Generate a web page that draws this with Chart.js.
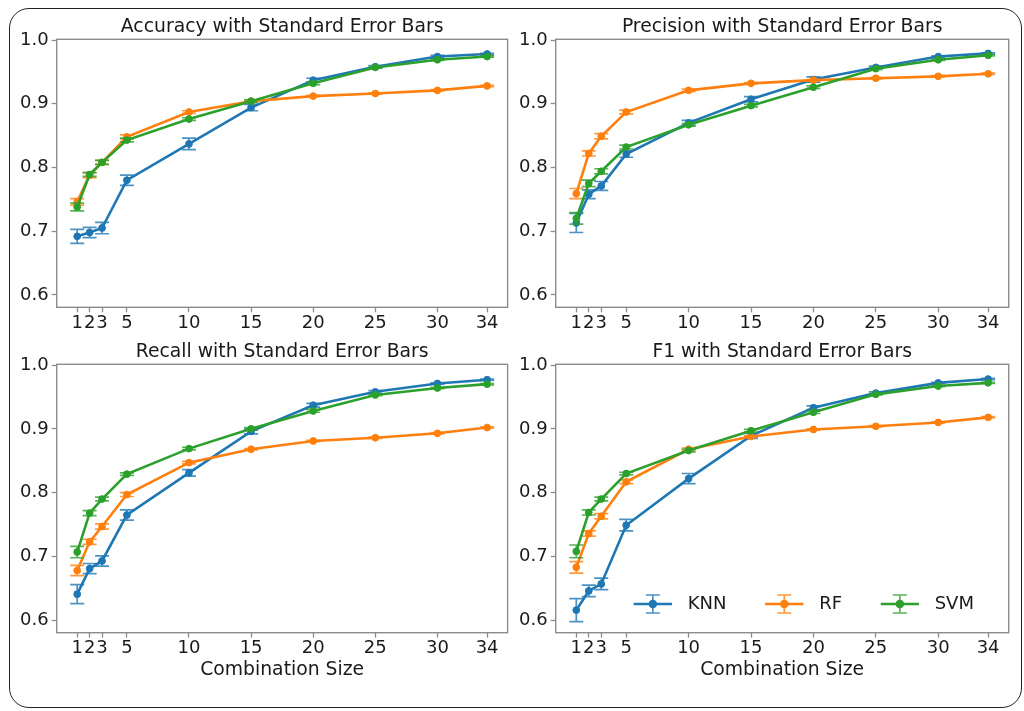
<!DOCTYPE html>
<html><head><meta charset="utf-8">
<script src="https://cdn.jsdelivr.net/npm/chart.js@4"></script>
<style>
html,body{margin:0;padding:0;background:#fff;width:1024px;height:711px;overflow:hidden}
canvas{position:absolute}
#frame{position:absolute;left:9px;top:8px;width:1013px;height:700px;border:1.5px solid #222;border-radius:20px;box-sizing:border-box;pointer-events:none}
</style></head><body>
<canvas id="cAcc" width="512" height="340" style="left:0;top:0"></canvas>
<canvas id="cPre" width="512" height="340" style="left:512px;top:0"></canvas>
<canvas id="cRec" width="512" height="371" style="left:0;top:340px"></canvas>
<canvas id="cF1" width="512" height="371" style="left:512px;top:340px"></canvas>
<div id="frame"></div>
<script>
// ---- data ----
const sizes = [1, 2, 3, 5, 10, 15, 20, 25, 30, 34];
const xTicks = [1, 2, 3, 5, 10, 15, 20, 25, 30, 34];
const yTicks = [0.6, 0.7, 0.8, 0.9, 1.0];
const models = ['KNN', 'RF', 'SVM'];

const accuracyKNN    = [0.692, 0.698, 0.705, 0.780, 0.837, 0.894, 0.937, 0.958, 0.974, 0.978];
const accuracyKNNErr = [0.011, 0.008, 0.009, 0.008, 0.009, 0.005, 0.003, 0.002, 0.002, 0.001];
const accuracyRF     = [0.746, 0.788, 0.808, 0.848, 0.887, 0.904, 0.912, 0.916, 0.921, 0.928];
const accuracyRFErr  = [0.005, 0.004, 0.003, 0.003, 0.002, 0.001, 0.001, 0.001, 0.001, 0.001];
const accuracySVM    = [0.738, 0.789, 0.808, 0.843, 0.876, 0.904, 0.932, 0.957, 0.969, 0.974];
const accuracySVMErr = [0.006, 0.003, 0.003, 0.003, 0.002, 0.002, 0.002, 0.001, 0.001, 0.001];

const precisionKNN    = [0.713, 0.758, 0.771, 0.821, 0.870, 0.907, 0.938, 0.957, 0.974, 0.979];
const precisionKNNErr = [0.015, 0.007, 0.007, 0.005, 0.004, 0.004, 0.004, 0.002, 0.001, 0.001];
const precisionRF     = [0.759, 0.822, 0.849, 0.887, 0.921, 0.932, 0.937, 0.940, 0.943, 0.947];
const precisionRFErr  = [0.008, 0.004, 0.004, 0.003, 0.002, 0.001, 0.001, 0.001, 0.001, 0.001];
const precisionSVM    = [0.720, 0.775, 0.794, 0.832, 0.867, 0.897, 0.926, 0.955, 0.969, 0.976];
const precisionSVMErr = [0.009, 0.005, 0.004, 0.003, 0.002, 0.002, 0.002, 0.001, 0.001, 0.001];

const recallKNN    = [0.641, 0.681, 0.693, 0.765, 0.831, 0.896, 0.937, 0.958, 0.971, 0.977];
const recallKNNErr = [0.015, 0.008, 0.008, 0.008, 0.005, 0.004, 0.003, 0.002, 0.001, 0.001];
const recallRF     = [0.678, 0.723, 0.747, 0.797, 0.847, 0.868, 0.881, 0.886, 0.893, 0.902];
const recallRFErr  = [0.008, 0.004, 0.004, 0.003, 0.002, 0.001, 0.001, 0.001, 0.001, 0.001];
const recallSVM    = [0.707, 0.768, 0.790, 0.829, 0.869, 0.900, 0.928, 0.953, 0.964, 0.970];
const recallSVMErr = [0.009, 0.004, 0.003, 0.002, 0.002, 0.002, 0.002, 0.001, 0.001, 0.001];

const f1KNN    = [0.616, 0.646, 0.657, 0.749, 0.822, 0.889, 0.933, 0.956, 0.972, 0.978];
const f1KNNErr = [0.018, 0.009, 0.009, 0.009, 0.008, 0.004, 0.003, 0.002, 0.001, 0.001];
const f1RF     = [0.683, 0.736, 0.763, 0.817, 0.868, 0.888, 0.899, 0.904, 0.910, 0.918];
const f1RFErr  = [0.009, 0.004, 0.004, 0.003, 0.002, 0.001, 0.001, 0.001, 0.001, 0.001];
const f1SVM    = [0.708, 0.769, 0.790, 0.830, 0.866, 0.897, 0.926, 0.954, 0.967, 0.972];
const f1SVMErr = [0.010, 0.004, 0.003, 0.002, 0.002, 0.002, 0.002, 0.001, 0.001, 0.001];

// ---- styling ----
const COLORS = ['#1f77b4', '#ff7f0e', '#2ca02c'];
const FONT = '"DejaVu Sans", "Liberation Sans", sans-serif';
const TEXT = '#1a1a1a';
const SPINE = '#8c8c8c';

const errorBarPlugin = {
  id: 'errorBars',
  afterDatasetDraw(chart, args) {
    const ds = chart.data.datasets[args.index];
    if (!ds.errors) return;
    const ctx = chart.ctx, xs = chart.scales.x, ys = chart.scales.y;
    ctx.save();
    ctx.strokeStyle = ds.borderColor;
    ctx.globalAlpha = 0.8;
    ctx.lineWidth = 1.7;
    ds.data.forEach((p, i) => {
      const e = ds.errors[i];
      const px = xs.getPixelForValue(p.x);
      const y1 = ys.getPixelForValue(p.y + e);
      const y2 = ys.getPixelForValue(p.y - e);
      ctx.beginPath();
      ctx.moveTo(px, y1); ctx.lineTo(px, y2);
      ctx.moveTo(px - 7, y1); ctx.lineTo(px + 7, y1);
      ctx.moveTo(px - 7, y2); ctx.lineTo(px + 7, y2);
      ctx.stroke();
    });
    ctx.restore();
  }
};

const boxPlugin = {
  id: 'axesBox',
  afterDatasetsDraw(chart) {
    const {ctx, chartArea: a} = chart;
    ctx.save();
    ctx.strokeStyle = SPINE;
    ctx.lineWidth = 1.4;
    ctx.strokeRect(a.left, a.top, a.right - a.left, a.bottom - a.top);
    ctx.restore();
  }
};

const subTitlePlugin = {
  id: 'subTitle',
  afterDraw(chart, args, opts) {
    const {ctx, chartArea: a} = chart;
    ctx.save();
    ctx.font = '18.8px ' + FONT;
    ctx.fillStyle = TEXT;
    ctx.textAlign = 'center';
    ctx.textBaseline = 'middle';
    ctx.fillText(opts.text, (a.left + a.right) / 2, a.top - 12);
    ctx.restore();
  }
};

const insetLegendPlugin = {
  id: 'insetLegend',
  afterDraw(chart, args, opts) {
    if (!opts.show) return;
    const {ctx, chartArea: a} = chart;
    ctx.save();
    ctx.font = '18px ' + FONT;
    ctx.textBaseline = 'middle';
    ctx.textAlign = 'left';
    let x = a.left + 78;
    const y = a.bottom - 28.7;
    chart.data.datasets.forEach((ds) => {
      const hw = 38.3;
      ctx.strokeStyle = ds.borderColor;
      ctx.lineWidth = 2.6;
      ctx.beginPath(); ctx.moveTo(x, y); ctx.lineTo(x + hw, y); ctx.stroke();
      const cx = x + hw / 2;
      ctx.globalAlpha = 0.8;
      ctx.lineWidth = 1.7;
      ctx.beginPath();
      ctx.moveTo(cx, y - 9); ctx.lineTo(cx, y + 9);
      ctx.moveTo(cx - 7, y - 9); ctx.lineTo(cx + 7, y - 9);
      ctx.moveTo(cx - 7, y + 9); ctx.lineTo(cx + 7, y + 9);
      ctx.stroke();
      ctx.globalAlpha = 1;
      ctx.fillStyle = ds.borderColor;
      ctx.beginPath(); ctx.arc(cx, y, 4.3, 0, Math.PI * 2); ctx.fill();
      ctx.fillStyle = TEXT;
      const tx = x + hw + 15.7;
      ctx.fillText(ds.label, tx, y);
      x = tx + ctx.measureText(ds.label).width + 38.7;
    });
    ctx.restore();
  }
};

function makeChart(id, title, series, errs, cfg) {
  const datasets = models.map((m, k) => ({
    label: m,
    data: sizes.map((s, i) => ({x: s, y: series[k][i]})),
    errors: errs[k],
    borderColor: COLORS[k],
    backgroundColor: COLORS[k],
    borderWidth: 2.6,
    pointRadius: 3.4,
    pointBorderWidth: 1,
    pointHoverRadius: 3.4,
    tension: 0,
    fill: false,
    order: 3 - k
  }));
  return new Chart(document.getElementById(id), {
    type: 'line',
    data: {datasets},
    options: {
      responsive: false,
      animation: false,
      devicePixelRatio: 1,
      layout: {padding: cfg.padding},
      plugins: {
        legend: {display: false},
        tooltip: {enabled: false},
        subTitle: {text: title},
        insetLegend: {show: !!cfg.legend}
      },
      scales: {
        x: {
          type: 'linear',
          min: -0.65, max: 35.65,
          afterBuildTicks: (s) => { s.ticks = xTicks.map(v => ({value: v})); },
          afterFit: (s) => { s.height = cfg.xHeight; },
          ticks: {autoSkip: false, maxRotation: 0, minRotation: 0, padding: cfg.xTickPad,
                  color: TEXT, font: {family: FONT, size: 18}, callback: (v) => String(v)},
          grid: {drawOnChartArea: false, drawTicks: true, tickLength: 5, tickColor: SPINE, tickWidth: 1.3},
          border: {display: false},
          title: {display: !!cfg.xTitle, text: 'Combination Size', color: TEXT,
                  font: {family: FONT, size: 18.8}, padding: {top: 0, bottom: cfg.xTitlePad || 0}}
        },
        y: {
          type: 'linear',
          min: 0.5806, max: 1.0011,
          afterBuildTicks: (s) => { s.ticks = yTicks.map(v => ({value: v})); },
          afterFit: (s) => { s.width = cfg.yWidth; },
          ticks: {padding: 3, color: TEXT, font: {family: FONT, size: 18}, callback: (v) => Number(v).toFixed(1)},
          grid: {drawOnChartArea: false, drawTicks: true, tickLength: 5, tickColor: SPINE, tickWidth: 1.3},
          border: {display: false}
        }
      }
    },
    plugins: [errorBarPlugin, boxPlugin, subTitlePlugin, insetLegendPlugin]
  });
}

makeChart('cAcc', 'Accuracy with Standard Error Bars',
  [accuracyKNN, accuracyRF, accuracySVM], [accuracyKNNErr, accuracyRFErr, accuracySVMErr],
  {padding: {left: 0, right: 3.7, top: 39.3, bottom: 0}, yWidth: 56.7, xHeight: 32.7, xTickPad: 0});
makeChart('cPre', 'Precision with Standard Error Bars',
  [precisionKNN, precisionRF, precisionSVM], [precisionKNNErr, precisionRFErr, precisionSVMErr],
  {padding: {left: 0, right: 15.3, top: 39.3, bottom: 0}, yWidth: 43.7, xHeight: 32.7, xTickPad: 0});
makeChart('cRec', 'Recall with Standard Error Bars',
  [recallKNN, recallRF, recallSVM], [recallKNNErr, recallRFErr, recallSVMErr],
  {padding: {left: 0, right: 3.7, top: 24.3, bottom: 0}, yWidth: 56.7, xHeight: 78.3, xTickPad: 0, xTitle: true, xTitlePad: 29.2});
makeChart('cF1', 'F1 with Standard Error Bars',
  [f1KNN, f1RF, f1SVM], [f1KNNErr, f1RFErr, f1SVMErr],
  {padding: {left: 0, right: 15.3, top: 24.3, bottom: 0}, yWidth: 43.7, xHeight: 78.3, xTickPad: 0, xTitle: true, xTitlePad: 29.2, legend: true});
</script>
</body></html>
